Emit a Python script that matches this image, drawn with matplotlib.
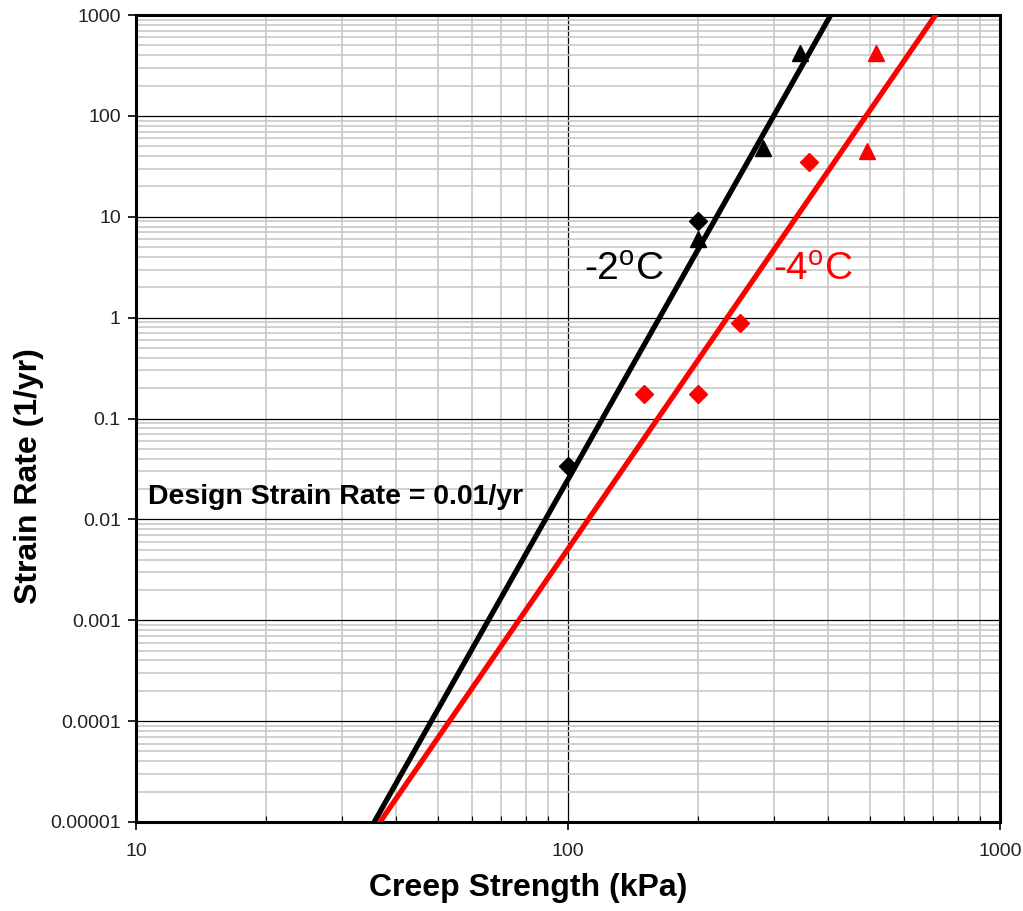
import numpy as np
import matplotlib
matplotlib.use('Agg')
import matplotlib.pyplot as plt
from matplotlib.ticker import LogLocator, FixedLocator, FixedFormatter, NullFormatter

plt.rcParams['font.family'] = ['Liberation Sans', 'DejaVu Sans']
plt.rcParams['mathtext.default'] = 'regular'

# creep test results, strength (kPa) vs strain rate (1/yr)
m2_diamond_x = [100, 200]
m2_diamond_y = [0.034, 9]
m2_triangle_x = [200, 282, 345]
m2_triangle_y = [6, 48, 420]

m4_diamond_x = [150, 200, 250, 361]
m4_diamond_y = [0.175, 0.175, 0.885, 35]
m4_triangle_x = [492, 516]
m4_triangle_y = [45, 420]

# power law fits: rate = rate100 * (sigma / 100) ** n
m2_fit = {'rate100': 0.0249, 'n': 7.57}
m4_fit = {'rate100': 0.0051, 'n': 6.22}

x_ticks = [10, 100, 1000]
x_tick_labels = ['10', '100', '1000']
y_ticks = [1e-5, 1e-4, 1e-3, 1e-2, 1e-1, 1, 10, 100, 1000]
y_tick_labels = ['0.00001', '0.0001', '0.001', '0.01', '0.1', '1', '10', '100', '1000']

fig = plt.figure(figsize=(10.23, 9.11), dpi=100)
ax = fig.add_axes([0.133, 0.0977, 0.8445, 0.8858])
ax.set_xscale('log')
ax.set_yscale('log')
ax.set_xlim(10, 1000)
ax.set_ylim(1e-5, 1000)

sig = np.logspace(1, 3, 400)
for fit, col in [(m2_fit, 'black'), (m4_fit, '#ff0000')]:
    ax.plot(sig, fit['rate100'] * (sig / 100.0) ** fit['n'], color=col, lw=3.8,
            solid_capstyle='butt', zorder=3)

ax.plot(m2_diamond_x, m2_diamond_y, 'D', color='black', ms=9, zorder=4)
ax.plot(m2_triangle_x, m2_triangle_y, '^', color='black', ms=12, zorder=4)
ax.plot(m4_diamond_x, m4_diamond_y, 'D', color='#ff0000', ms=9, zorder=4)
ax.plot(m4_triangle_x, m4_triangle_y, '^', color='#ff0000', ms=12, zorder=4)

ax.text(109, 2.97, '-2$^{o}$C', fontsize=28, color='black', va='center', ha='left')
ax.text(298, 2.97, '-4$^{o}$C', fontsize=28, color='#ff0000', va='center', ha='left')
ax.text(10.66, 0.0167, 'Design Strain Rate = 0.01/yr', fontsize=20.5,
        fontweight='bold', va='center', ha='left')

# grid
ax.xaxis.set_major_locator(FixedLocator(x_ticks))
ax.xaxis.set_major_formatter(FixedFormatter(x_tick_labels))
ax.yaxis.set_major_locator(FixedLocator(y_ticks))
ax.yaxis.set_major_formatter(FixedFormatter(y_tick_labels))
ax.xaxis.set_minor_locator(LogLocator(base=10, subs=np.arange(2, 10), numticks=20))
ax.yaxis.set_minor_locator(LogLocator(base=10, subs=np.arange(2, 10), numticks=20))
ax.xaxis.set_minor_formatter(NullFormatter())
ax.yaxis.set_minor_formatter(NullFormatter())
ax.grid(which='minor', color='#c8c8c8', lw=1.2, zorder=0)
ax.grid(which='major', color='black', lw=0.9, zorder=1)
ax.set_axisbelow(True)

ax.tick_params(which='major', direction='out', length=6, width=1.2,
               labelsize=14, labelcolor='#222222', pad=9)
ax.tick_params(which='minor', direction='in', length=4, width=0.8, left=False)
ax.tick_params(axis='y', which='major', pad=5)
for s in ax.spines.values():
    s.set_linewidth(2.2)

# axis titles placed by hand, slightly off-centre
fig.text(528 / 1023, 1 - 888 / 911, 'Creep Strength (kPa)', fontsize=23,
         fontweight='bold', ha='center', va='center')
fig.text(29 / 1023, 1 - 476 / 911, 'Strain Rate (1/yr)', fontsize=23,
         fontweight='bold', ha='center', va='center', rotation=90)

fig.savefig('out.png', dpi=100)
